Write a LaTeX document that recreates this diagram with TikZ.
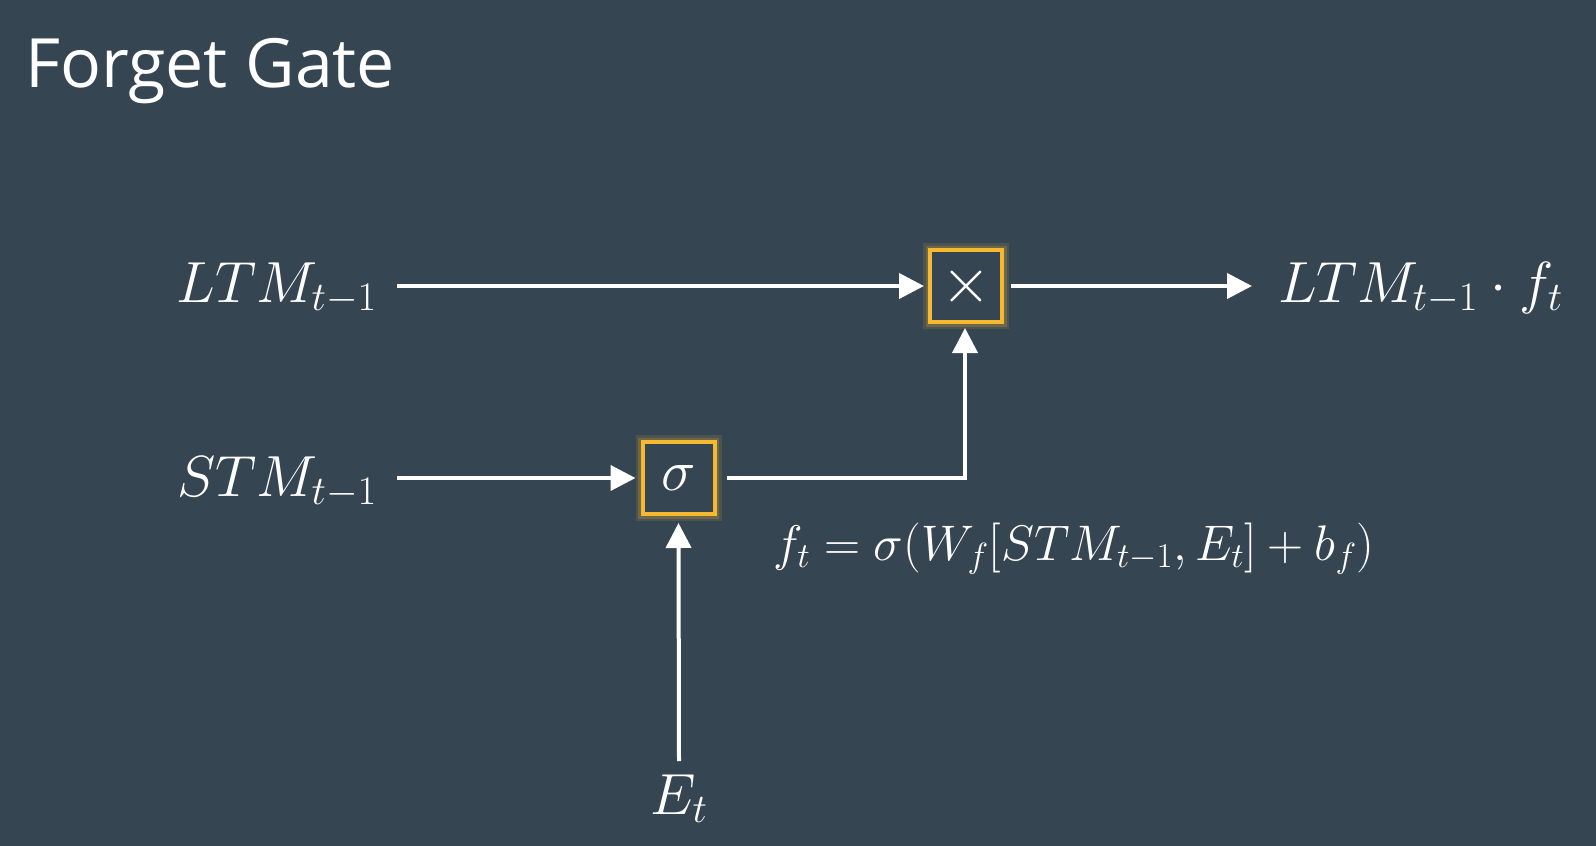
\RequirePackage{fix-cm}
\documentclass[tikz,border=0pt]{standalone}
\usepackage{fontspec}
\setsansfont{Open Sans}
\usetikzlibrary{arrows.meta,calc}
\definecolor{bg}{RGB}{54,69,82}
\definecolor{gate}{RGB}{245,185,50}
\tikzset{
  arr/.style={draw=white, line width=4pt, -{Triangle[width=25pt,length=25pt]}},
  lbl/.style={text=white, inner sep=0pt, font=\fontsize{58}{60}\selectfont},
  gatebox/.style={draw=gate, line width=4pt, fill=bg, minimum size=72pt, inner sep=0pt, text=white,
    preaction={draw=gate, draw opacity=0.12, line width=14pt},
    preaction={draw=gate, draw opacity=0.2, line width=9pt}},
}
\begin{document}
\begin{tikzpicture}[x=1pt,y=-1pt]
\fill[bg] (0,0) rectangle (1596,846);
\useasboundingbox (0,0) rectangle (1596,846);
\node[anchor=base west, text=white, inner sep=0pt, font=\sffamily\fontsize{68}{70}\selectfont] (title) at (25,87) {Forget Gate};
\node[lbl, anchor=base east] (ltm) at (377,302) {$LTM_{t-1}$};
\node[lbl, anchor=base east] (stm) at (377,496) {$STM_{t-1}$};
\node[gatebox] (mul) at (966,286) {\fontsize{64}{64}\selectfont$\times$};
\node[gatebox] (sig) at (678.5,478) {\fontsize{58}{58}\selectfont$\sigma$};
\node[lbl, anchor=base west] (out) at (1278,302) {$LTM_{t-1}\cdot f_t$};
\node[lbl, anchor=base] (et) at (679,814) {$E_t$};
\node[lbl, anchor=base west, font=\fontsize{50}{52}\selectfont] (eq) at (773,560) {$f_t=\sigma(W_f[STM_{t-1},E_t]+b_f)$};
\coordinate (c1) at (965,478);
\coordinate (e0) at (679,761);
\draw[arr] ($(ltm.east |- mul.west)+(20,0)$) -- ($(mul.west)+(-4,0)$);
\draw[arr] ($(mul.east)+(7,0)$) -- ($(out.west |- mul.east)+(-26,0)$);
\draw[arr] ($(stm.east |- sig.west)+(20,0)$) -- ($(sig.west)+(-5,0)$);
\draw[arr] ($(sig.east)+(10,0)$) -- (c1) -- ($(mul.south -| c1)+(0,4)$);
\draw[arr] (e0) -- ($(sig.south)+(0,7)$);
\end{tikzpicture}
\end{document}
